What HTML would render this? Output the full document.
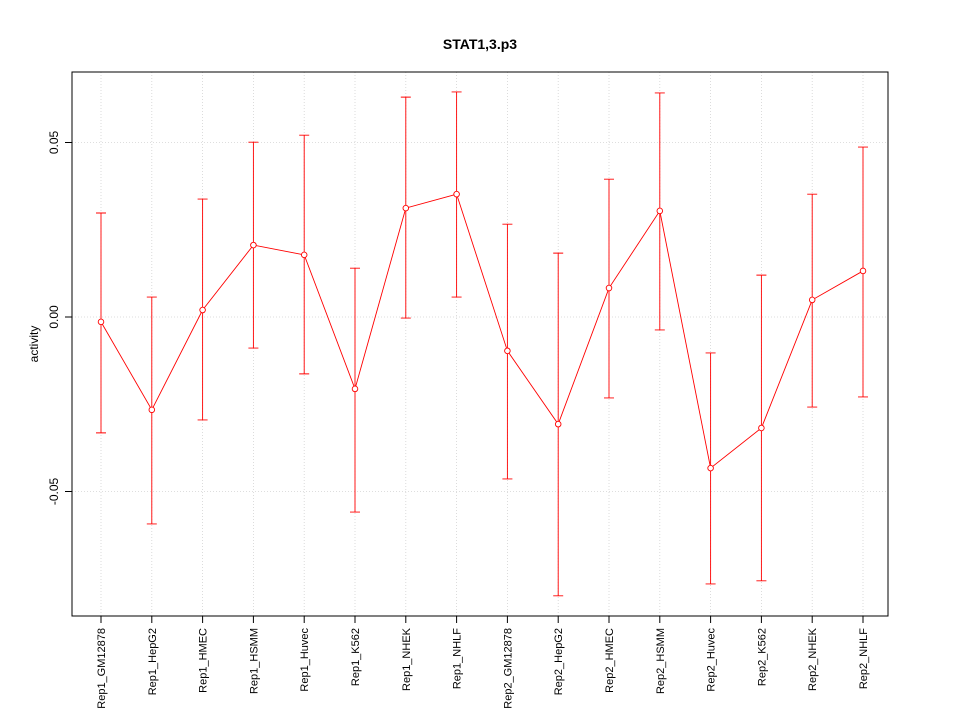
<!DOCTYPE html>
<html><head><meta charset="utf-8"><style>
body{margin:0;background:#fff;}
svg{display:block;font-family:"Liberation Sans",sans-serif;}
</style></head><body>
<svg id="chart" width="960" height="720" viewBox="0 0 960 720">
<text x="480" y="49" text-anchor="middle" font-size="14" font-weight="bold">STAT1,3.p3</text>
<text transform="translate(38,344) rotate(-90)" text-anchor="middle" font-size="12">activity</text>
<g id="grid"></g><g id="axes"></g><g id="marks"></g>
<rect x="72" y="72" width="816" height="544" fill="none" stroke="#000"/>
</svg>
<script>
const categories=["Rep1_GM12878","Rep1_HepG2","Rep1_HMEC","Rep1_HSMM","Rep1_Huvec","Rep1_K562","Rep1_NHEK","Rep1_NHLF","Rep2_GM12878","Rep2_HepG2","Rep2_HMEC","Rep2_HSMM","Rep2_Huvec","Rep2_K562","Rep2_NHEK","Rep2_NHLF"];
const values=[-0.0014,-0.0266,0.002,0.0206,0.0178,-0.0206,0.0312,0.0352,-0.0097,-0.0307,0.0083,0.0304,-0.0433,-0.0318,0.0049,0.0132];
const upper=[0.0298,0.0057,0.0338,0.0501,0.0521,0.014,0.063,0.0645,0.0266,0.0183,0.0395,0.0642,-0.0103,0.012,0.0352,0.0487];
const lower=[-0.0332,-0.0593,-0.0295,-0.0089,-0.0163,-0.0559,-0.0003,0.0057,-0.0464,-0.0799,-0.0232,-0.0037,-0.0765,-0.0756,-0.0258,-0.0229];
const yTicks=[-0.05,0,0.05];
const yTickLabels=["-0.05","0.00","0.05"];
const NS="http://www.w3.org/2000/svg";
const x=i=>101+i*(863-101)/(categories.length-1);
const y=v=>317-v*3490;
function mk(parent,tag,attrs){const e=document.createElementNS(NS,tag);for(const k in attrs)e.setAttribute(k,attrs[k]);document.getElementById(parent).appendChild(e);return e;}
yTicks.forEach((t,i)=>{
 let g=mk('grid','line',{x1:72,x2:888,y1:y(t),y2:y(t),stroke:'#d3d3d3','stroke-width':0.8,'stroke-dasharray':'1,2'});
 
 
 let tk=mk('axes','line',{x1:65,x2:72,y1:y(t),y2:y(t),stroke:'#000'});
 
 
 let lb=mk('axes','text',{transform:`translate(58,${y(t)}) rotate(-90)`,'text-anchor':'middle','font-size':'12'});
 lb.textContent=yTickLabels[i];
 
 
});
categories.forEach((c,i)=>{
 let g=mk('grid','line',{x1:x(i),x2:x(i),y1:72,y2:616,stroke:'#d3d3d3','stroke-width':0.8,'stroke-dasharray':'1,2'});
 
 
 let tk=mk('axes','line',{x1:x(i),x2:x(i),y1:616,y2:623,stroke:'#000'});
 
 
 let lb=mk('axes','text',{transform:`translate(${x(i)+4},628) rotate(-90)`,'text-anchor':'end','font-size':'11'});
 lb.textContent=c;
 
 
});
let pts=values.map((v,i)=>x(i)+','+y(v)).join(' ');
let pl=mk('marks','polyline',{points:pts,fill:'none',stroke:'#f00','stroke-width':0.9});


values.forEach((v,i)=>{
 let eb=mk('marks','path',{d:`M${x(i)},${y(upper[i])}V${y(lower[i])}M${x(i)-5},${y(upper[i])}H${x(i)+5}M${x(i)-5},${y(lower[i])}H${x(i)+5}`,stroke:'#f00','stroke-width':0.9,fill:'none'});
 
 
 let p=mk('marks','circle',{cx:x(i),cy:y(v),r:2.8,fill:'#fff',stroke:'#f00','stroke-width':0.9});
 
 
});
</script>
</body></html>
